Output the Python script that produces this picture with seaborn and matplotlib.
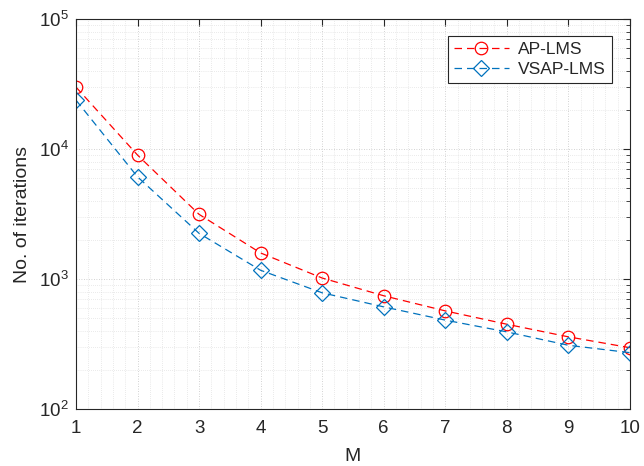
import numpy as np
import pandas as pd
import matplotlib
matplotlib.use("Agg")
import matplotlib.pyplot as plt
import seaborn as sns
from matplotlib.ticker import MultipleLocator, LogLocator, NullFormatter

M = [1, 2, 3, 4, 5, 6, 7, 8, 9, 10]
ap_lms = [30000, 9000, 3150, 1590, 1020, 745, 570, 450, 360, 297]
vsap_lms = [23800, 6120, 2250, 1170, 785, 612, 484, 393, 310, 272]
series_names = ["AP-LMS", "VSAP-LMS"]
xlabel = "M"
ylabel = "No. of iterations"

sns.set_style("white")
plt.rcParams["font.family"] = ["Liberation Sans", "DejaVu Sans"]

fig = plt.figure(figsize=(6.44, 4.66), dpi=100)
ax = fig.add_axes([0.118, 0.122, 0.860, 0.837])

sns.lineplot(x=M, y=ap_lms, ax=ax, color="#FF0000", linestyle=(0, (6, 4)),
             linewidth=0.9, marker="o", markersize=9, markerfacecolor="none",
             markeredgecolor="#FF0000", markeredgewidth=0.9, label=series_names[0])
sns.lineplot(x=M, y=vsap_lms, ax=ax, color="#0072BD", linestyle=(0, (6, 4)),
             linewidth=0.9, marker="D", markersize=8, markerfacecolor="none",
             markeredgecolor="#0072BD", markeredgewidth=0.9, label=series_names[1])

ax.set_yscale("log")
ax.set_xlim(1, 10)
ax.set_ylim(1e2, 1e5)
ax.xaxis.set_major_locator(MultipleLocator(1))
ax.xaxis.set_minor_locator(MultipleLocator(0.2))
ax.yaxis.set_major_locator(LogLocator(base=10, numticks=10))
ax.yaxis.set_minor_locator(LogLocator(base=10, subs=np.arange(2, 10), numticks=20))
ax.yaxis.set_minor_formatter(NullFormatter())

ax.grid(True, which="major", color="#c4c4c4", linestyle=(0, (1, 2)), linewidth=0.6)
ax.grid(True, which="minor", color="#d6d6d6", linestyle=(0, (1, 2)), linewidth=0.5)
ax.set_axisbelow(True)

for s in ax.spines.values():
    s.set_visible(True)
    s.set_color("#262626")
    s.set_linewidth(0.8)

ax.tick_params(which="both", direction="in", top=True, right=True, colors="#262626",
               labelsize=13.5, labelcolor="#262626")
ax.tick_params(which="major", length=5)
ax.tick_params(which="minor", length=3)
ax.tick_params(axis="x", which="major", pad=8)
ax.tick_params(axis="y", which="major", pad=5)
ax.tick_params(axis="x", which="minor", length=0, top=False, bottom=False)

ax.set_xlabel(xlabel, fontsize=14, color="#262626", labelpad=8)
ax.set_ylabel(ylabel, fontsize=14, color="#262626", labelpad=6)

leg = ax.legend(loc="upper right", fontsize=12.5, frameon=True, fancybox=False,
                edgecolor="#262626", framealpha=1, borderpad=0.35,
                handlelength=3.2, handletextpad=0.5, labelspacing=0.3,
                bbox_to_anchor=(0.983, 0.98))
leg.get_frame().set_linewidth(0.8)

fig.savefig("out.png", dpi=100, facecolor="white")
